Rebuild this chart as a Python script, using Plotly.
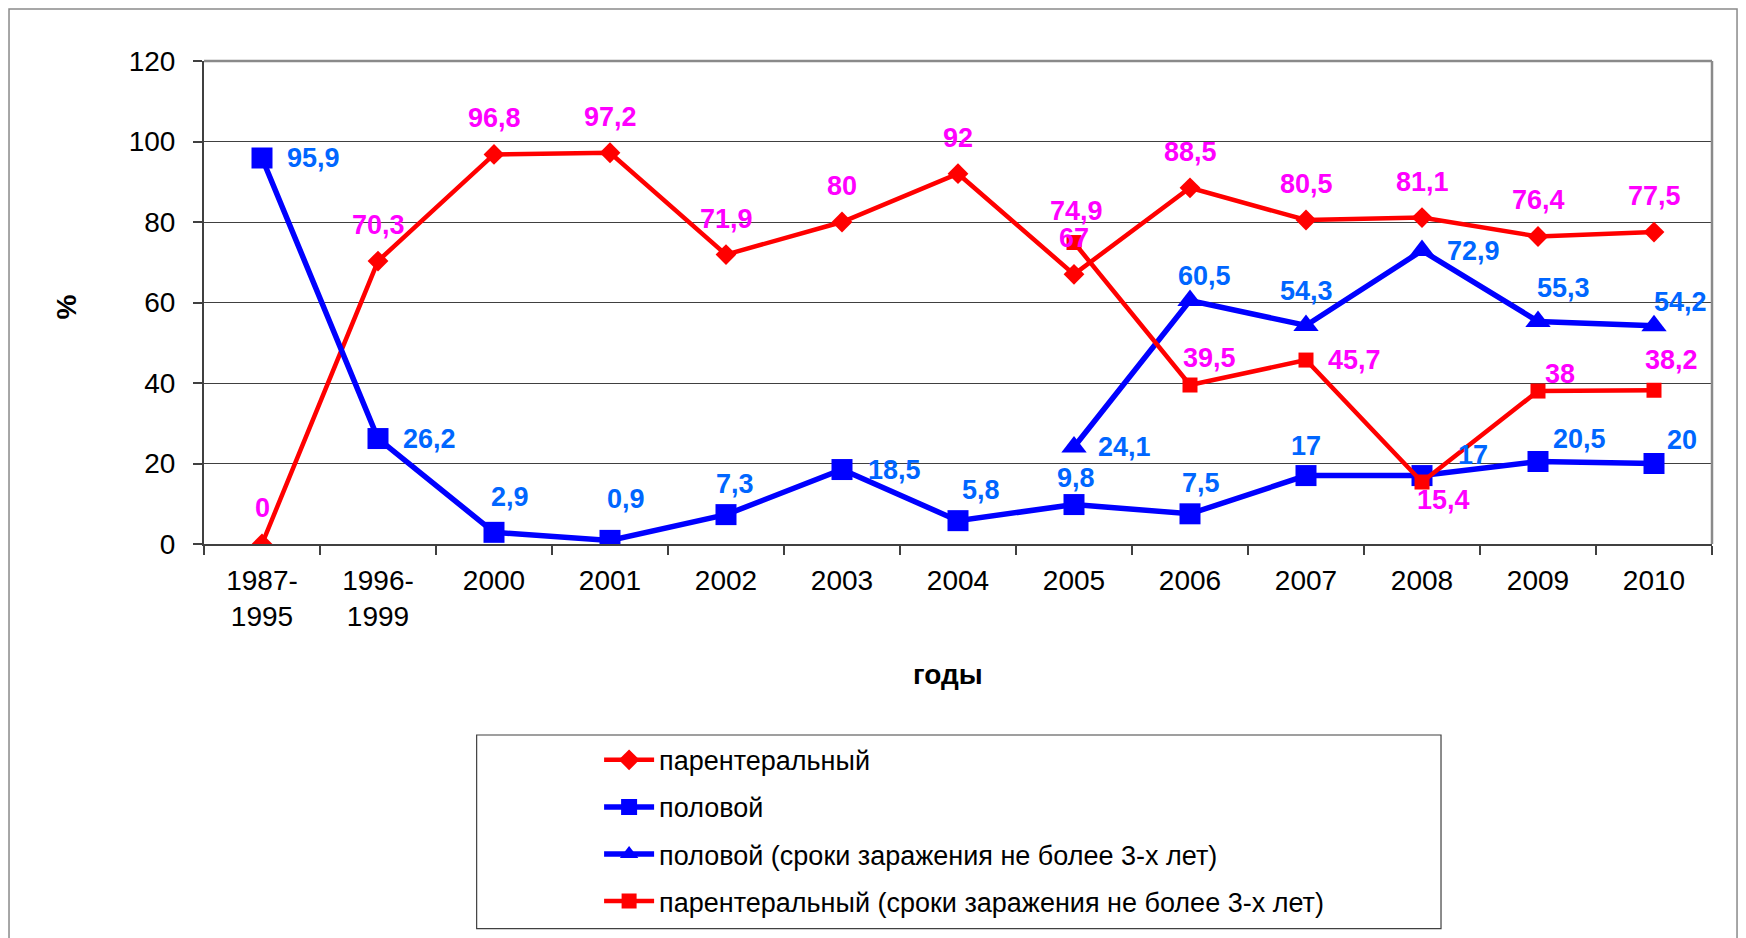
import plotly.graph_objects as go

# ---- data ----
categories = ["1987-<br>1995", "1996-<br>1999", "2000", "2001", "2002", "2003", "2004",
              "2005", "2006", "2007", "2008", "2009", "2010"]
parenteral = [0, 70.3, 96.8, 97.2, 71.9, 80, 92, 67, 88.5, 80.5, 81.1, 76.4, 77.5]
sexual = [95.9, 26.2, 2.9, 0.9, 7.3, 18.5, 5.8, 9.8, 7.5, 17, 17, 20.5, 20]
recent_categories = ["2005", "2006", "2007", "2008", "2009", "2010"]
sexual_recent = [24.1, 60.5, 54.3, 72.9, 55.3, 54.2]
parenteral_recent = [74.9, 39.5, 45.7, 15.4, 38, 38.2]

names = ["парентеральный", "половой",
         "половой (сроки заражения не более 3-х лет)",
         "парентеральный (сроки заражения не более 3-х лет)"]
y_ticks = [0, 20, 40, 60, 80, 100, 120]

# label offsets (px) – styling only
par_off = [(0, 36)] * 13
sex_off = [(51, 0), (51, 0), (16, 35), (16, 41), (9, 31), (52, 0), (23, 31),
           (2, 27), (11, 31), (0, 30), (51, 21), (41, 22), (28, 24)]
sexr_off = [(50, 0), (14, 24), (0, 34), (51, 0), (25, 33), (26, 24)]
parr_off = [(2, 32), (19, 27), (48, 0), (21, -18), (22, 17), (17, 30)]

RED = "#FF0000"
BLUE = "#0000FF"
MAG = "#FF00FF"
LBLUE = "#0066FF"
FONT = "Liberation Sans, Arial, sans-serif"


def fmt(v):
    return ("%g" % v).replace(".", ",")


fig = go.Figure()
fig.add_trace(go.Scatter(x=categories, y=parenteral, name=names[0], mode="lines+markers",
                         line=dict(color=RED, width=4.5),
                         marker=dict(symbol="diamond", size=16, color=RED),
                         legendgroup="a"))
fig.add_trace(go.Scatter(x=categories, y=sexual, name=names[1], mode="lines+markers",
                         line=dict(color=BLUE, width=5.5),
                         marker=dict(symbol="square", size=21, color=BLUE),
                         legendgroup="b"))
fig.add_trace(go.Scatter(x=recent_categories, y=sexual_recent, name=names[2], mode="lines+markers",
                         line=dict(color=BLUE, width=5.5),
                         marker=dict(symbol="triangle-up", size=22, color=BLUE),
                         legendgroup="c"))
fig.add_trace(go.Scatter(x=recent_categories, y=parenteral_recent, name=names[3], mode="lines+markers",
                         line=dict(color=RED, width=4.5),
                         marker=dict(symbol="square", size=15, color=RED),
                         legendgroup="d"))

annotations = []


def add_labels(xs, ys, offs, color):
    for xv, yv, (dx, dy) in zip(xs, ys, offs):
        annotations.append(dict(x=categories.index(xv), y=yv, xref="x", yref="y", text=fmt(yv),
                                showarrow=False, xshift=dx, yshift=dy,
                                font=dict(family=FONT, size=27, color=color, weight="bold")))


add_labels(categories, parenteral, par_off, MAG)
add_labels(categories, sexual, sex_off, LBLUE)
add_labels(recent_categories, sexual_recent, sexr_off, LBLUE)
add_labels(recent_categories, parenteral_recent, parr_off, MAG)

# axis titles
annotations.append(dict(x=-0.103, y=0.49, xref="paper", yref="paper", text="%", textangle=-90,
                        showarrow=False, font=dict(family=FONT, size=28, color="black", weight="bold")))
annotations.append(dict(x=0.4934, y=-0.3064, xref="paper", yref="paper", text="годы",
                        showarrow=False, font=dict(family=FONT, size=28, color="black", weight="bold")))

shapes = [
    # outer chart frame
    dict(type="rect", xref="paper", yref="paper", x0=-0.1293, x1=1.0166, y0=-0.85, y1=1.1077,
         line=dict(color="#8a8a8a", width=1.5), layer="below"),
    # plot area top & right borders
    dict(type="line", xref="paper", yref="paper", x0=0, x1=1, y0=1, y1=1,
         line=dict(color="#8a8a8a", width=2.5), layer="above"),
    dict(type="line", xref="paper", yref="paper", x0=1, x1=1, y0=0, y1=1,
         line=dict(color="#8a8a8a", width=2.5), layer="above"),
    # legend frame
    dict(type="rect", xref="paper", yref="paper", x0=0.1808, x1=0.8203, y0=-0.7963, y1=-0.3954,
         line=dict(color="#404040", width=1.2), layer="below"),
]

fig.update_layout(
    width=1746, height=938,
    margin=dict(l=196, r=42, t=53, b=402),
    paper_bgcolor="white", plot_bgcolor="white",
    font=dict(family=FONT, size=28, color="black"),
    showlegend=True,
    legend=dict(x=0.262, y=-0.397, xanchor="left", yanchor="top",
                font=dict(family=FONT, size=27, color="black"),
                bgcolor="rgba(0,0,0,0)", borderwidth=0,
                traceorder="grouped", tracegroupgap=9, itemwidth=50,
                itemsizing="trace"),
    annotations=annotations,
    shapes=shapes,
)
fig.update_xaxes(type="category", categoryorder="array", categoryarray=categories,
                 tickson="boundaries", ticks="outside", ticklen=9, tickwidth=1.5,
                 tickcolor="#404040", showline=True, linecolor="#404040", linewidth=2,
                 showgrid=False, tickfont=dict(family=FONT, size=28, color="black"),
                 range=[-0.5, 12.5], ticklabelstandoff=10)
fig.update_yaxes(range=[0, 120], tickvals=y_ticks, ticks="outside", ticklen=9, tickwidth=1.5,
                 tickcolor="#404040", showline=True, linecolor="#404040", linewidth=2,
                 showgrid=True, gridcolor="#404040", gridwidth=1.3, zeroline=False,
                 tickfont=dict(family=FONT, size=28, color="black"), ticklabelstandoff=12)

fig.write_html("out.html")
